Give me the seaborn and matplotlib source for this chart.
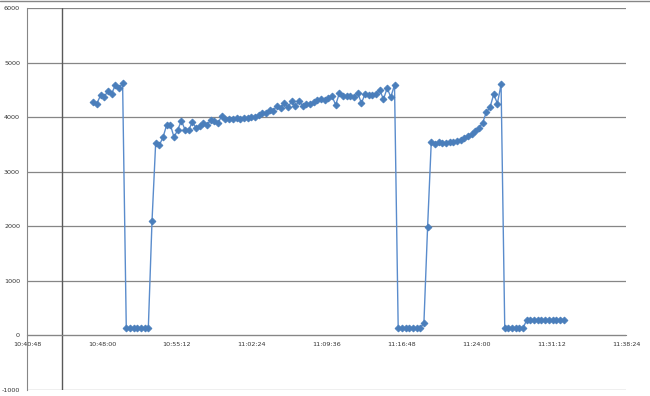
import pandas as pd
import matplotlib.pyplot as plt
import matplotlib.dates as mdates
from matplotlib.lines import Line2D
import seaborn as sns

start_time = "2012-01-01 10:47:10"
sample_period = "21200ms"

high_1 = [4270, 4250, 4400, 4370, 4480, 4430, 4580, 4530, 4620]
low_1 = [140, 140, 140, 140, 140, 140, 140]
ramp_1 = [2090]
plateau_1 = [3530, 3490, 3630, 3860, 3860, 3630, 3770, 3930, 3770, 3770,
             3910, 3800, 3830, 3890, 3860, 3950, 3930, 3890, 4030, 3970,
             3970, 3970, 3980, 3970, 3990, 3990, 4010, 4010, 4040, 4070,
             4070, 4135, 4120, 4210, 4165, 4257, 4183, 4287, 4196, 4300,
             4208, 4245, 4245, 4270, 4305, 4330, 4305, 4350, 4380, 4225,
             4440, 4380, 4390, 4380, 4367, 4440, 4257, 4428, 4410, 4410,
             4428, 4490, 4330, 4530, 4367, 4593]
low_2 = [140, 140, 140, 140, 140, 140, 140]
ramp_2 = [225, 1980]
plateau_2 = [3540, 3510, 3540, 3530, 3530, 3550, 3550, 3570, 3590, 3620,
             3650, 3690, 3740, 3800, 3900, 4090, 4180, 4420, 4250, 4600]
low_3 = [140, 140, 140, 140, 140, 140]
tail = [285, 280, 280, 280, 278, 278, 278, 275, 275, 275, 275]

values = high_1 + low_1 + ramp_1 + plateau_1 + low_2 + ramp_2 + plateau_2 + low_3 + tail
times = pd.date_range(start=start_time, periods=len(values), freq=sample_period)
df = pd.DataFrame({"time": times, "value": values})

# axis settings
x_ticks = pd.date_range("2012-01-01 10:40:48", "2012-01-01 11:38:24", freq="432s")
y_ticks = [-1000, 0, 1000, 2000, 3000, 4000, 5000, 6000]
axis_cross = pd.Timestamp("2012-01-01 10:44:10")

sns.set_style("white")
plt.rcParams["font.family"] = ["DejaVu Sans"]
plt.rcParams["axes.unicode_minus"] = False

fig = plt.figure(figsize=(6.5, 3.96), dpi=100)
ax = fig.add_axes([27 / 650, 6 / 396, 599 / 650, 382 / 396])

sns.lineplot(data=df, x="time", y="value", ax=ax, color="#5a8ccc", linewidth=1,
             marker="D", markersize=3.5, markerfacecolor="#4a7ebb",
             markeredgecolor="#4a7ebb", markeredgewidth=0.6)

ax.set_xlim(x_ticks[0], x_ticks[-1])
ax.set_ylim(-1000, 6000)
ax.set_xticks(x_ticks)
ax.set_yticks(y_ticks)
ax.xaxis.set_major_formatter(mdates.DateFormatter("%H:%M:%S"))
ax.yaxis.grid(True, color="#868686", linewidth=0.9)
ax.xaxis.grid(False)
ax.axvline(axis_cross, color="#595959", linewidth=1)

for side in ["top", "right"]:
    ax.spines[side].set_visible(False)
ax.spines["bottom"].set_position(("data", 0))
ax.spines["bottom"].set_color("#868686")
ax.spines["left"].set_color("#868686")
ax.tick_params(axis="both", direction="out", length=3.5, width=0.8,
               color="#868686", labelsize=4.6, labelcolor="#333333", pad=1.5)
ax.set_xlabel("")
ax.set_ylabel("")

fig.add_artist(Line2D([0, 1], [0.998, 0.998], color="#868686", linewidth=1,
                      transform=fig.transFigure))

plt.savefig("out.png", dpi=100)
